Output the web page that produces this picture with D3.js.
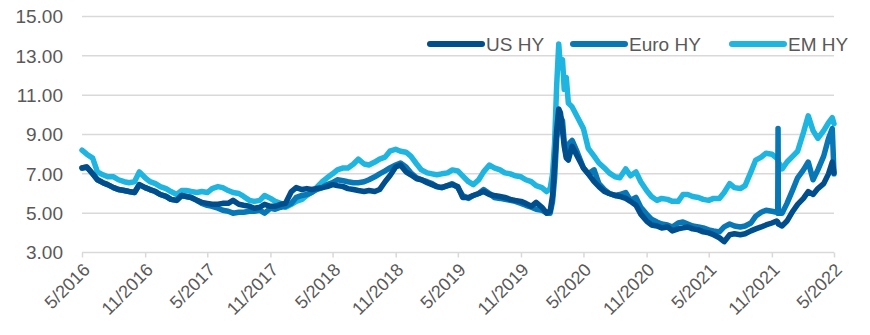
<!DOCTYPE html>
<html><head><meta charset="utf-8">
<script src="https://cdn.jsdelivr.net/npm/d3@7"></script>
<style>
html,body{margin:0;padding:0;background:#fff;}
text{font-family:"Liberation Sans",Arial,sans-serif;}
</style></head>
<body><svg id="chart" width="870" height="335"></svg>
<script>
const dates = ["2016-05-01","2016-05-15","2016-06-01","2016-06-15","2016-07-01","2016-07-15","2016-08-01","2016-08-15","2016-09-01","2016-09-15","2016-10-01","2016-10-15","2016-11-01","2016-11-15","2016-12-01","2016-12-15",
"2017-01-01","2017-01-15","2017-02-01","2017-02-15","2017-03-01","2017-03-15","2017-04-01","2017-04-15","2017-05-01","2017-05-15","2017-06-01","2017-06-15","2017-07-01","2017-07-15","2017-08-01","2017-08-15","2017-09-01","2017-09-15","2017-10-01","2017-10-15","2017-11-01","2017-11-15","2017-12-01","2017-12-15",
"2018-01-01","2018-01-15","2018-02-01","2018-02-15","2018-03-01","2018-03-15","2018-04-01","2018-04-15","2018-05-01","2018-05-15","2018-06-01","2018-06-15","2018-07-01","2018-07-15","2018-08-01","2018-08-15","2018-09-01","2018-09-15","2018-10-01","2018-10-15","2018-11-01","2018-11-15","2018-12-01","2018-12-15",
"2019-01-01","2019-01-15","2019-02-01","2019-02-15","2019-03-01","2019-03-15","2019-04-01","2019-04-15","2019-05-01","2019-05-15","2019-06-01","2019-06-15","2019-07-01","2019-07-15","2019-08-01","2019-08-15","2019-09-01","2019-09-15","2019-10-01","2019-10-15","2019-11-01","2019-11-15","2019-12-01","2019-12-15",
"2020-01-01","2020-01-15","2020-01-25","2020-02-01","2020-02-07","2020-02-13","2020-02-19","2020-02-24","2020-03-01","2020-03-06","2020-03-12","2020-03-18","2020-03-29","2020-04-13","2020-05-01","2020-05-15","2020-06-01","2020-06-15","2020-07-01","2020-07-15","2020-08-01","2020-08-15","2020-09-01","2020-09-15","2020-10-01","2020-10-15","2020-11-01","2020-11-15","2020-12-01","2020-12-15",
"2021-01-01","2021-01-15","2021-02-01","2021-02-15","2021-03-01","2021-03-15","2021-04-01","2021-04-15","2021-05-01","2021-05-15","2021-06-01","2021-06-15","2021-07-01","2021-07-15","2021-08-01","2021-08-15","2021-09-01","2021-09-15","2021-10-01","2021-10-15","2021-11-01","2021-11-15","2021-11-18","2021-11-19","2021-11-20","2021-12-01","2021-12-15",
"2022-01-01","2022-01-15","2022-02-01","2022-02-15","2022-03-01","2022-03-15","2022-04-01","2022-04-15","2022-04-26","2022-05-01"];

const usHY = [7.30,7.35,7.00,6.70,6.55,6.45,6.30,6.20,6.15,6.10,6.05,6.45,6.30,6.20,6.10,5.95,
5.85,5.70,5.65,5.90,5.85,5.80,5.65,5.55,5.50,5.45,5.45,5.50,5.50,5.65,5.45,5.40,5.35,5.25,5.30,5.45,5.35,5.35,5.45,5.50,
6.10,6.30,6.20,6.25,6.20,6.25,6.30,6.35,6.45,6.40,6.35,6.25,6.20,6.15,6.10,6.15,6.10,6.20,6.60,6.90,7.35,7.45,7.10,6.95,
6.75,6.70,6.55,6.45,6.35,6.30,6.40,6.45,6.35,5.80,5.80,5.90,6.00,6.10,5.95,5.90,5.85,5.80,5.70,5.65,5.60,5.50,5.35,5.55,
5.30,5.00,5.10,5.90,7.50,9.20,10.30,10.10,9.20,8.40,7.80,7.70,8.40,7.90,7.30,7.00,6.60,6.35,6.10,6.00,5.90,5.85,5.75,5.60,5.40,4.95,4.60,4.40,4.35,4.25,
4.30,4.10,4.20,4.25,4.30,4.20,4.15,4.05,4.00,3.90,3.75,3.55,3.90,3.95,3.90,3.95,4.10,4.20,4.30,4.40,4.50,4.60,4.55,4.50,4.45,4.35,4.60,
5.10,5.45,5.75,6.10,5.95,6.25,6.50,7.00,7.60,7.05];

const euroHY = [7.30,7.35,7.00,6.70,6.55,6.45,6.30,6.20,6.15,6.10,6.05,6.45,6.30,6.20,6.10,5.95,
5.85,5.70,5.65,5.90,5.85,5.80,5.65,5.50,5.40,5.35,5.25,5.15,5.10,5.00,5.05,5.05,5.10,5.10,5.15,5.00,5.25,5.20,5.30,5.35,
5.50,5.80,5.90,5.95,6.05,6.20,6.30,6.45,6.55,6.70,6.65,6.60,6.55,6.55,6.60,6.70,6.85,7.00,7.15,7.30,7.45,7.55,7.35,7.05,
6.80,6.70,6.60,6.50,6.35,6.30,6.40,6.50,6.30,5.90,5.75,5.90,6.00,6.20,6.00,5.80,5.75,5.70,5.65,5.60,5.50,5.40,5.30,5.20,
5.15,5.00,5.00,5.60,6.80,8.80,9.50,9.90,9.70,8.60,7.90,8.50,8.70,8.10,7.30,7.00,7.20,6.50,6.20,6.00,5.90,5.95,6.05,5.65,5.80,5.30,4.95,4.70,4.55,4.45,
4.40,4.30,4.50,4.55,4.45,4.35,4.30,4.25,4.15,4.10,4.05,4.30,4.45,4.35,4.30,4.35,4.50,4.85,5.05,5.15,5.10,5.05,5.00,9.30,5.00,5.00,5.50,
6.20,6.80,7.20,7.60,6.70,7.20,7.90,8.80,9.30,7.00];

const emHY = [8.20,8.00,7.80,7.10,6.95,6.85,6.85,6.70,6.60,6.55,6.60,7.10,6.80,6.60,6.50,6.35,
6.25,6.10,5.95,6.15,6.15,6.10,6.05,6.10,6.05,6.25,6.35,6.30,6.15,6.05,6.00,5.85,5.65,5.60,5.65,5.90,5.75,5.60,5.50,5.30,
5.45,5.60,5.70,5.90,6.05,6.30,6.60,6.80,7.00,7.20,7.30,7.30,7.50,7.75,7.50,7.45,7.60,7.75,7.85,8.15,8.25,8.15,8.10,7.90,
7.50,7.20,7.05,7.00,6.95,7.00,7.05,7.20,7.15,6.90,6.60,6.45,6.70,7.10,7.45,7.30,7.20,7.05,7.00,6.90,6.85,6.70,6.60,6.40,
6.30,6.10,6.25,7.00,8.60,11.50,13.60,12.40,12.80,11.30,11.90,10.60,10.40,9.90,9.30,8.30,7.90,7.55,7.30,7.05,6.85,6.80,7.25,6.90,7.10,6.60,6.15,5.85,5.65,5.75,
5.70,5.60,5.60,5.95,5.95,5.85,5.80,5.70,5.65,5.75,5.75,6.05,6.50,6.30,6.25,6.40,7.10,7.70,7.85,8.05,8.00,7.80,7.75,7.70,7.60,7.25,7.60,
7.90,8.15,9.10,9.95,9.20,8.80,9.20,9.60,9.85,9.55];

const seriesNames = ["US HY","Euro HY","EM HY"];
const seriesColors = ["#004e8c","#0877b6","#1eb5e0"];
const yTickValues = [3,5,7,9,11,13,15];
const xTickDates = ["2016-05-01","2016-11-01","2017-05-01","2017-11-01","2018-05-01","2018-11-01","2019-05-01","2019-11-01","2020-05-01","2020-11-01","2021-05-01","2021-11-01","2022-05-01"];

const parse = d3.timeParse("%Y-%m-%d");
const svg = d3.select("#chart");
const x = d3.scaleTime().domain([parse("2016-05-01"), parse("2022-05-01")]).range([82, 834]);
const y = d3.scaleLinear().domain([3, 15]).range([252.5, 16.5]);

// gridlines
svg.append("g").selectAll("line").data(yTickValues).join("line")
  .attr("x1", 82).attr("x2", 834)
  .attr("y1", d => y(d)).attr("y2", d => y(d))
  .attr("stroke", "#d9d9d9").attr("stroke-width", 1.5);

// y labels
svg.append("g").selectAll("text").data(yTickValues).join("text")
  .attr("x", 63).attr("y", d => y(d)).attr("dy", "0.36em")
  .attr("text-anchor", "end").attr("font-size", 19).attr("fill", "#595959")
  .text(d => d.toFixed(2));

// x axis ticks
const fmt = d3.timeFormat("%-m/%Y");
const xAxis = d3.axisBottom(x).tickValues(xTickDates.map(parse)).tickSize(5).tickFormat(fmt);
const gx = svg.append("g").attr("transform", `translate(0,${y(3)})`).call(xAxis);
gx.select(".domain").remove();
gx.selectAll(".tick line").attr("stroke", "#d9d9d9").attr("stroke-width", 1.5);
gx.selectAll(".tick text")
  .attr("font-size", 18).attr("fill", "#595959").attr("font-family", "Liberation Sans, Arial, sans-serif")
  .attr("text-anchor", "end").attr("dy", "0.35em")
  .attr("transform", "translate(4,14) rotate(-45)")
  .attr("y", 0).attr("x", 0);

// lines
const seriesData = [usHY, euroHY, emHY];
const drawOrder = [2, 1, 0];
const line = d3.line().x(d => x(d[0])).y(d => y(d[1]));
drawOrder.forEach(i => {
  const pts = dates.map((d, j) => [parse(d), seriesData[i][j]]);
  svg.append("path").datum(pts)
    .attr("d", line).attr("fill", "none")
    .attr("stroke", seriesColors[i]).attr("stroke-width", 5.5)
    .attr("stroke-linejoin", "round").attr("stroke-linecap", "round");
});

// legend
const legendPos = [430, 573, 732];
const lg = svg.append("g");
seriesNames.forEach((n, i) => {
  lg.append("line").attr("x1", legendPos[i]).attr("x2", legendPos[i] + 52)
    .attr("y1", 44).attr("y2", 44).attr("stroke", seriesColors[i])
    .attr("stroke-width", 6).attr("stroke-linecap", "round");
  lg.append("text").attr("x", legendPos[i] + 56).attr("y", 44).attr("dy", "0.36em")
    .attr("font-size", 19).attr("fill", "#595959").text(n);
});
</script></body></html>
